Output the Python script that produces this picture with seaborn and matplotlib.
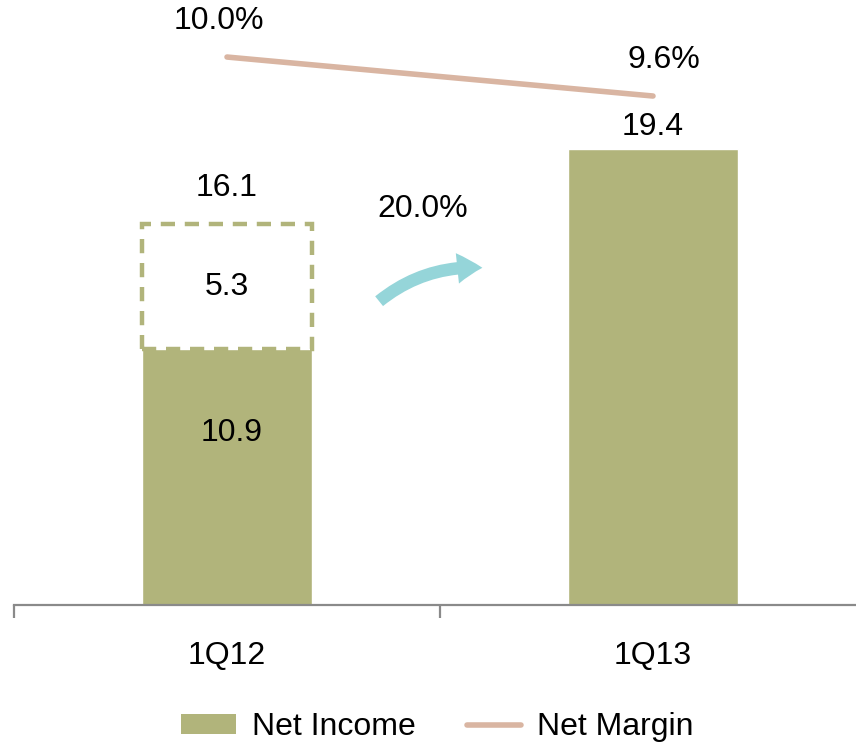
import matplotlib
matplotlib.use("Agg")
import matplotlib.pyplot as plt
from matplotlib.patches import Patch, FancyArrowPatch
from matplotlib.lines import Line2D
import seaborn as sns
import pandas as pd

# ---- data ----
categories = ["1Q12", "1Q13"]
net_income = [10.9, 19.4]
adjustment = [5.3, None]       # dashed add-on on 1Q12
adjusted_total = [16.1, None]
net_margin = [10.0, 9.6]       # %
growth_label = "20.0%"

sns.set_theme(style="white")
plt.rcParams["font.family"] = ["Liberation Sans", "DejaVu Sans"]
plt.rcParams["text.color"] = "black"
plt.rcParams["xtick.color"] = "black"

OLIVE = "#B1B47B"
PINK = "#D9B5A2"
TEAL = "#95D5D9"
AXIS = "#8A8A8A"
FS = 23

fig = plt.figure(figsize=(8.56, 7.42), dpi=100)
ax = fig.add_axes([14 / 856, 137 / 742, 852 / 856, 605 / 742])

df = pd.DataFrame({"cat": categories, "val": net_income})
sns.barplot(data=df, x="cat", y="val", color=OLIVE, saturation=1, width=0.4, ax=ax)

# dashed adjustment box
for i, (adj, base) in enumerate(zip(adjustment, net_income)):
    if adj is not None:
        ax.bar(i, adj, bottom=base, width=0.4, fill=False, edgecolor=OLIVE,
               linewidth=3.2, linestyle=(0, (3.2, 2.2)), zorder=3)

ax.set_xlim(-0.5, 1.5)
ax.set_ylim(0, 25.74)
ax.set_xlabel("")
ax.set_ylabel("")
ax.set_yticks([])

# axes styling
for s in ["top", "right", "left"]:
    ax.spines[s].set_visible(False)
ax.spines["bottom"].set_color(AXIS)
ax.spines["bottom"].set_linewidth(1.6)
ax.set_xticks(range(len(categories)))
ax.set_xticklabels(categories, fontsize=FS, color="black")
ax.set_xticks([-0.5, 0.5, 1.5], minor=True)
ax.tick_params(axis="x", which="major", bottom=True, length=0, pad=26, labelcolor="black")
ax.tick_params(axis="x", which="minor", bottom=True, length=9, width=1.6, color=AXIS, direction="out")

# bar labels
for i, v in enumerate(net_income):
    if adjustment[i] is not None:
        ax.text(i + 0.01, v * 0.67, f"{v:.1f}", ha="center", va="center", fontsize=FS)
        ax.text(i, v + adjustment[i] / 2, f"{adjustment[i]:.1f}", ha="center", va="center", fontsize=FS)
        ax.text(i, adjusted_total[i] + 1.0, f"{adjusted_total[i]:.1f}", ha="center", va="bottom", fontsize=FS)
    else:
        ax.text(i, v + 0.3, f"{v:.1f}", ha="center", va="bottom", fontsize=FS)

# growth arrow + label
arrow = FancyArrowPatch((0.352, 12.85), (0.606, 14.34),
                        connectionstyle="arc3,rad=-0.2",
                        arrowstyle="simple,head_width=1.1,head_length=0.9,tail_width=0.45",
                        color=TEAL, mutation_scale=20, lw=0, zorder=4)
ax.add_patch(arrow)
ax.text(0.46, 16.2, growth_label, ha="center", va="bottom", fontsize=FS)

# net margin line on twin axis
ax2 = ax.twinx()
dfm = pd.DataFrame({"x": list(range(len(categories))), "m": net_margin})
sns.lineplot(data=dfm, x="x", y="m", color=PINK, linewidth=4, ax=ax2, sort=False)
ax2.lines[-1].set_solid_capstyle("round")
ax2.set_ylim(4.379, 10.585)
ax2.set_xlim(-0.5, 1.5)
ax2.set_yticks([])
ax2.set_ylabel("")
ax2.set_xlabel("")
for s in ax2.spines.values():
    s.set_visible(False)
offsets = [-0.02, 0.025]
for i, m in enumerate(net_margin):
    ax2.text(i + offsets[i], m + 0.22, f"{m:.1f}%", ha="center", va="bottom", fontsize=FS)

# legend
handles = [Patch(facecolor=OLIVE, edgecolor="none", label="Net Income"),
           Line2D([0], [0], color=PINK, lw=4, solid_capstyle="round", label="Net Margin")]
fig.legend(handles=handles, loc="lower center", bbox_to_anchor=(0.511, -0.039), ncol=2,
           frameon=False, fontsize=FS, handlelength=1.7, handleheight=0.55,
           handletextpad=0.5, columnspacing=1.6)

fig.savefig("out.png", dpi=100)
